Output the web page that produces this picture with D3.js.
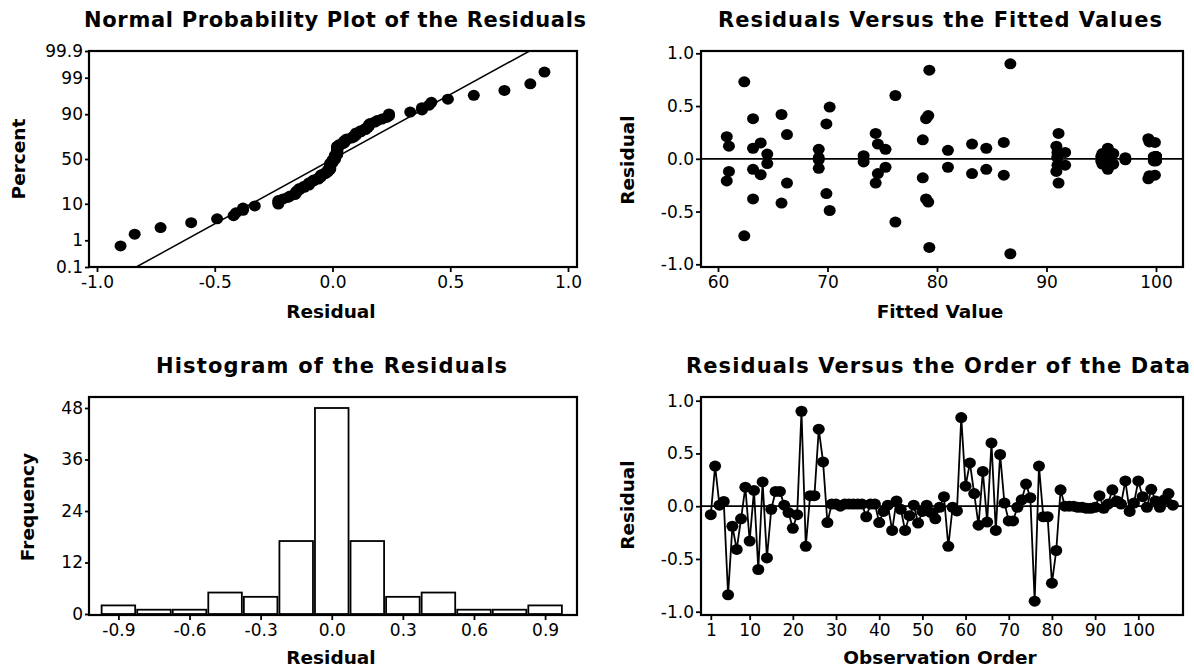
<!DOCTYPE html>
<html>
<head>
<meta charset="utf-8">
<script src="https://cdn.jsdelivr.net/npm/d3@7"></script>
<style>
  html, body { margin: 0; padding: 0; background: #fff; }
  svg { display: block; }
  .tick text { font-family: "DejaVu Sans", Verdana, sans-serif; font-size: 17px; fill: #000; }
  .title { font-family: "DejaVu Sans", Verdana, sans-serif; font-weight: bold; font-size: 21px; fill: #000; }
  .label { font-family: "DejaVu Sans", Verdana, sans-serif; font-weight: bold; font-size: 18.5px; fill: #000; }
</style>
</head>
<body>
<svg id="chart" width="1194" height="670"></svg>
<script>
// Residuals in observation order (n = 108)
const residuals = [
  -0.08, 0.38, 0.01, 0.045, -0.84, -0.19, -0.41, -0.12, 0.18, -0.33,
  0.15, -0.60, 0.23, -0.49, -0.03, 0.14, 0.14, 0.01, -0.06, -0.21,
  -0.08, 0.90, -0.38, 0.10, 0.10, 0.73, 0.42, -0.155, 0.02, 0.02,
  0.00, 0.02, 0.02, 0.02, 0.02, 0.02, -0.10, 0.02, 0.02, -0.155,
  -0.05, 0.01, -0.23, 0.05, -0.03, -0.23, -0.09, 0.01, -0.16, -0.05,
  0.01, -0.06, -0.12, -0.01, 0.09, -0.38, -0.01, -0.045, 0.84, 0.19,
  0.41, 0.12, -0.18, 0.33, -0.15, 0.60, -0.23, 0.49, 0.03, -0.14,
  -0.14, -0.01, 0.06, 0.21, 0.08, -0.90, 0.38, -0.10, -0.10, -0.73,
  -0.42, 0.155, 0.00, 0.00, 0.00, -0.01, -0.01, -0.02, -0.02, -0.01,
  0.10, -0.02, 0.02, 0.155, 0.05, 0.02, 0.24, -0.05, 0.03, 0.24,
  0.09, -0.01, 0.16, 0.05, -0.01, 0.06, 0.12, 0.01
];

// Fitted values, same observation order
const fittedValues = [
  75.3, 63.2, 100.0, 64.5, 79.3, 99.3, 79.2, 61.0, 78.7, 69.9,
  63.9, 76.2, 66.3, 70.2, 73.3, 74.6, 83.2, 97.2, 91.7, 60.8,
  81.0, 86.7, 79.0, 63.2, 95.6, 62.4, 65.8, 86.1, 100.0, 100.0,
  99.9, 100.0, 100.0, 99.8, 100.0, 100.0, 84.5, 95.0, 100.0, 99.9,
  95.1, 91.0, 74.4, 96.1, 95.7, 91.1, 69.2, 69.2, 99.4, 96.0,
  100.0, 91.0, 90.9, 100.0, 75.3, 63.2, 100.0, 64.5, 79.3, 99.3,
  79.2, 61.0, 78.7, 69.9, 63.9, 76.2, 66.3, 70.2, 73.3, 74.6,
  83.2, 97.2, 91.7, 60.8, 81.0, 86.7, 79.0, 63.2, 95.6, 62.4,
  65.8, 86.1, 100.0, 100.0, 99.9, 100.0, 100.0, 99.8, 100.0, 100.0,
  84.5, 95.0, 100.0, 99.9, 95.1, 91.0, 74.4, 96.1, 95.7, 91.1,
  69.2, 69.2, 99.4, 96.0, 100.0, 91.0, 90.9, 100.0
];

// Histogram bins (centres, width 0.15) and frequencies
const binCenters = [-0.9, -0.75, -0.6, -0.45, -0.3, -0.15, 0.0, 0.15, 0.3, 0.45, 0.6, 0.75, 0.9];
const binCounts  = [2, 1, 1, 5, 4, 17, 48, 17, 4, 5, 1, 1, 2];

// Tick values
const percentTicks  = [0.1, 1, 10, 50, 90, 99, 99.9];
const residualTicks = [-1.0, -0.5, 0.0, 0.5, 1.0];
const fittedTicks   = [60, 70, 80, 90, 100];
const histXTicks    = [-0.9, -0.6, -0.3, 0.0, 0.3, 0.6, 0.9];
const histYTicks    = [0, 12, 24, 36, 48];
const orderTicks    = [1, 10, 20, 30, 40, 50, 60, 70, 80, 90, 100];

// Inverse standard normal CDF (Acklam's rational approximation)
function normInv(p) {
  const a = [-3.969683028665376e+01, 2.209460984245205e+02, -2.759285104469687e+02,
             1.383577518672690e+02, -3.066479806614716e+01, 2.506628277459239e+00];
  const b = [-5.447609879822406e+01, 1.615858368580409e+02, -1.556989798598866e+02,
             6.680131188771972e+01, -1.328068155288572e+01];
  const c = [-7.784894002430293e-03, -3.223964580411365e-01, -2.400758277161838e+00,
             -2.549732539343734e+00, 4.374664141464968e+00, 2.938163982698783e+00];
  const d = [7.784695709041462e-03, 3.224671290700398e-01, 2.445134137142996e+00,
             3.754408661907416e+00];
  const pl = 0.02425, ph = 1 - pl;
  let q, r;
  if (p < pl) {
    q = Math.sqrt(-2 * Math.log(p));
    return (((((c[0]*q + c[1])*q + c[2])*q + c[3])*q + c[4])*q + c[5]) /
           ((((d[0]*q + d[1])*q + d[2])*q + d[3])*q + 1);
  }
  if (p <= ph) {
    q = p - 0.5; r = q * q;
    return (((((a[0]*r + a[1])*r + a[2])*r + a[3])*r + a[4])*r + a[5]) * q /
           (((((b[0]*r + b[1])*r + b[2])*r + b[3])*r + b[4])*r + 1);
  }
  q = Math.sqrt(-2 * Math.log(1 - p));
  return -(((((c[0]*q + c[1])*q + c[2])*q + c[3])*q + c[4])*q + c[5]) /
          ((((d[0]*q + d[1])*q + d[2])*q + d[3])*q + 1);
}

const svg = d3.select("#chart");
const fmt1 = v => v.toFixed(1);

// Panel frames
const frames = {
  prob:  { x0: 89,  x1: 577,  y0: 51,  y1: 267 },
  fit:   { x0: 701, x1: 1183, y0: 51,  y1: 267 },
  hist:  { x0: 89,  x1: 577,  y0: 397, y1: 615 },
  order: { x0: 701, x1: 1183, y0: 397, y1: 615 }
};

function styleAxis(g) {
  g.select(".domain").remove();
  g.selectAll(".tick line").attr("stroke", "#000").attr("stroke-width", 1.8);
}

function drawFrame(f) {
  svg.append("rect")
    .attr("x", f.x0).attr("y", f.y0)
    .attr("width", f.x1 - f.x0).attr("height", f.y1 - f.y0)
    .attr("fill", "none").attr("stroke", "#000").attr("stroke-width", 2.2);
}

function title(text, x0, x1, y) {
  svg.append("text").attr("class", "title")
    .attr("x", x0).attr("y", y)
    .attr("textLength", x1 - x0).attr("lengthAdjust", "spacing")
    .text(text);
}

function xLabel(text, cx, y) {
  svg.append("text").attr("class", "label")
    .attr("x", cx).attr("y", y).attr("text-anchor", "middle").text(text);
}

function yLabel(text, x, cy) {
  svg.append("text").attr("class", "label")
    .attr("transform", `translate(${x},${cy}) rotate(-90)`)
    .attr("text-anchor", "middle").text(text);
}

function dots(g, data, sx, sy, fx, fy) {
  g.selectAll("ellipse.pt").data(data).join("ellipse")
    .attr("class", "pt")
    .attr("cx", d => sx(fx(d))).attr("cy", d => sy(fy(d)))
    .attr("rx", 6).attr("ry", 5.5)
    .attr("fill", "#000");
}

// ---------- Normal probability plot ----------
{
  const f = frames.prob;
  const n = residuals.length;
  const sorted = residuals.slice().sort(d3.ascending);
  const pts = sorted.map((r, i) => ({ r, z: normInv((i + 1 - 0.3) / (n + 0.4)) }));
  const zLo = normInv(0.001), zHi = normInv(0.999);

  const x = d3.scaleLinear().domain([-1, 1]).range([97, 568]);
  const y = d3.scaleLinear().domain([zLo, zHi]).range([f.y1, f.y0]);

  drawFrame(f);

  const clipId = "clipProb";
  svg.append("clipPath").attr("id", clipId).append("rect")
    .attr("x", f.x0).attr("y", f.y0).attr("width", f.x1 - f.x0).attr("height", f.y1 - f.y0);

  const mu = d3.mean(residuals), sd = d3.deviation(residuals);
  svg.append("line").attr("clip-path", `url(#${clipId})`)
    .attr("x1", x(mu + zLo * sd)).attr("y1", y(zLo))
    .attr("x2", x(mu + zHi * sd)).attr("y2", y(zHi))
    .attr("stroke", "#000").attr("stroke-width", 1.5);

  dots(svg.append("g"), pts, x, y, d => d.r, d => d.z);

  svg.append("g").attr("transform", `translate(${f.x0},0)`)
    .call(d3.axisLeft(y).tickValues(percentTicks.map(p => normInv(p / 100)))
      .tickFormat((d, i) => String(percentTicks[i])).tickSize(4).tickPadding(2))
    .call(styleAxis);
  svg.append("g").attr("transform", `translate(0,${f.y1})`)
    .call(d3.axisBottom(x).tickValues(residualTicks).tickFormat(fmt1).tickSize(5).tickPadding(4))
    .call(styleAxis);

  title("Normal Probability Plot of the Residuals", 84, 586, 27);
  xLabel("Residual", 331, 318);
  yLabel("Percent", 25, 159);
}

// ---------- Residuals vs fitted values ----------
{
  const f = frames.fit;
  const x = d3.scaleLinear().domain([60, 100]).range([718, 1156]);
  const y = d3.scaleLinear().domain([-1, 1]).range([264.3, 53.3]);
  const data = residuals.map((r, i) => ({ r, fv: fittedValues[i] }));

  drawFrame(f);
  svg.append("line")
    .attr("x1", f.x0).attr("x2", f.x1).attr("y1", y(0)).attr("y2", y(0))
    .attr("stroke", "#000").attr("stroke-width", 1.8);
  dots(svg.append("g"), data, x, y, d => d.fv, d => d.r);

  svg.append("g").attr("transform", `translate(${f.x0},0)`)
    .call(d3.axisLeft(y).tickValues(residualTicks).tickFormat(fmt1).tickSize(5).tickPadding(2))
    .call(styleAxis);
  svg.append("g").attr("transform", `translate(0,${f.y1})`)
    .call(d3.axisBottom(x).tickValues(fittedTicks).tickFormat(d3.format("d")).tickSize(5).tickPadding(4))
    .call(styleAxis);

  title("Residuals Versus the Fitted Values", 718, 1162, 27);
  xLabel("Fitted Value", 940, 318);
  yLabel("Residual", 634, 160);
}

// ---------- Histogram ----------
{
  const f = frames.hist;
  const x = d3.scaleLinear().domain([-0.9, 0.9]).range([118.4, 545.1]);
  const y = d3.scaleLinear().domain([0, 48]).range([614, 408]);
  const half = 0.075;
  const bins = binCenters.map((c, i) => ({ c, n: binCounts[i] }));

  drawFrame(f);
  svg.append("g").selectAll("rect").data(bins).join("rect")
    .attr("x", d => x(d.c - half) + 1)
    .attr("width", d => x(d.c + half) - x(d.c - half) - 2)
    .attr("y", d => y(d.n))
    .attr("height", d => y(0) - y(d.n))
    .attr("fill", "#fff").attr("stroke", "#000").attr("stroke-width", 1.8);

  svg.append("g").attr("transform", `translate(${f.x0},0)`)
    .call(d3.axisLeft(y).tickValues(histYTicks).tickFormat(d3.format("d")).tickSize(4).tickPadding(2))
    .call(styleAxis);
  svg.append("g").attr("transform", `translate(0,${f.y1})`)
    .call(d3.axisBottom(x).tickValues(histXTicks).tickFormat(fmt1).tickSize(5).tickPadding(4))
    .call(styleAxis);

  title("Histogram of the Residuals", 156, 507, 373);
  xLabel("Residual", 331, 664);
  yLabel("Frequency", 34, 507);
}

// ---------- Residuals vs observation order ----------
{
  const f = frames.order;
  const x = d3.scaleLinear().domain([1, 100]).range([710.8, 1138.3]);
  const y = d3.scaleLinear().domain([-1, 1]).range([611.7, 400.7]);
  const data = residuals.map((r, i) => ({ r, k: i + 1 }));

  drawFrame(f);
  svg.append("line")
    .attr("x1", f.x0).attr("x2", f.x1).attr("y1", y(0)).attr("y2", y(0))
    .attr("stroke", "#000").attr("stroke-width", 1.8);
  svg.append("path").datum(data)
    .attr("d", d3.line().x(d => x(d.k)).y(d => y(d.r)))
    .attr("fill", "none").attr("stroke", "#000").attr("stroke-width", 1.8);
  dots(svg.append("g"), data, x, y, d => d.k, d => d.r);

  svg.append("g").attr("transform", `translate(${f.x0},0)`)
    .call(d3.axisLeft(y).tickValues(residualTicks).tickFormat(fmt1).tickSize(5).tickPadding(2))
    .call(styleAxis);
  svg.append("g").attr("transform", `translate(0,${f.y1})`)
    .call(d3.axisBottom(x).tickValues(orderTicks).tickFormat(d3.format("d")).tickSize(5).tickPadding(4))
    .call(styleAxis);

  title("Residuals Versus the Order of the Data", 686, 1190, 373);
  xLabel("Observation Order", 940, 664);
  yLabel("Residual", 634, 505);
}
</script>
</body>
</html>
